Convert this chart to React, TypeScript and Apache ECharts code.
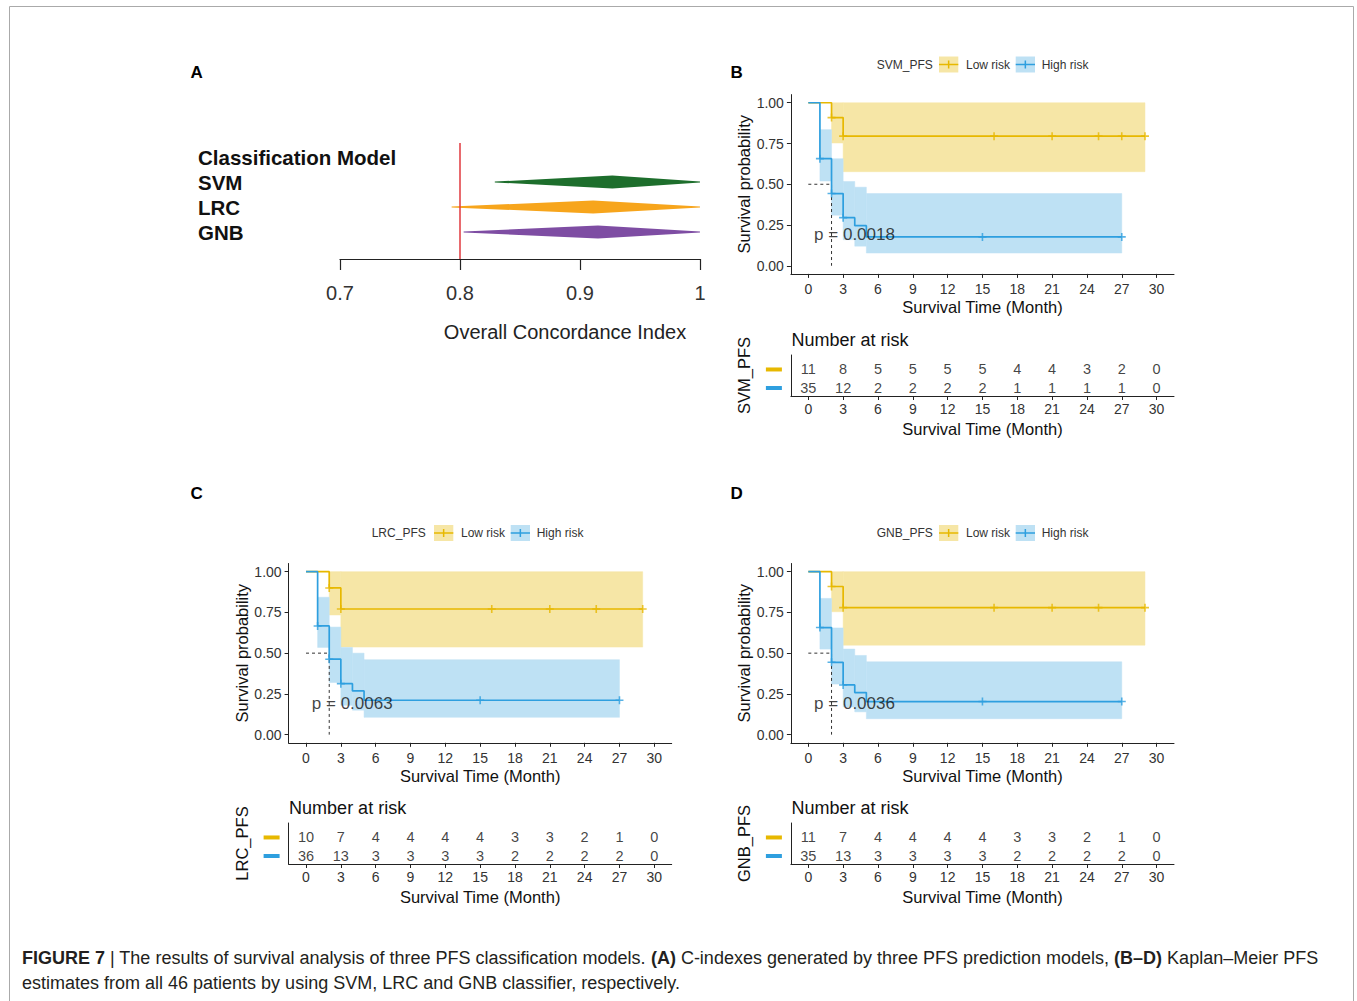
import React, { useEffect, useRef } from "react";
import * as echarts from "echarts";

// ---------- shared ticks / names ----------
const monthTicks = [0, 3, 6, 9, 12, 15, 18, 21, 24, 27, 30];
const probTicks = [0, 0.25, 0.5, 0.75, 1];
const groupNames = ["Low risk", "High risk"];

// ---------- Panel A: C-index ----------
const models = ["SVM", "LRC", "GNB"];
const modelColors = ["#1D6E2C", "#F7A51C", "#7E4DA3"];
const cIndexLow = [0.829, 0.793, 0.803];
const cIndexPeak = [0.927, 0.911, 0.915];
const cIndexHigh = [1.0, 1.0, 1.0];
const cIndexTicks = [0.7, 0.8, 0.9, 1];
const cIndexRef = 0.8;

// ---------- SVM ----------
const svmLowCurve = [[0, 1], [2, 0.909], [3, 0.795], [29, 0.795]];
const svmHighCurve = [[0, 1], [1, 0.657], [2, 0.443], [3, 0.295], [4, 0.246], [5, 0.177], [27, 0.177]];
const svmLowCensor = [[2, 0.909], [3, 0.795], [16, 0.795], [21, 0.795], [25, 0.795], [27, 0.795], [29, 0.795]];
const svmHighCensor = [[1, 0.657], [2, 0.443], [3, 0.295], [15, 0.177], [27, 0.177]];
const svmLowCI = [[2, 3, 0.753, 1], [3, 29, 0.577, 1]];
const svmHighCI = [[1, 2, 0.52, 0.835], [2, 3, 0.31, 0.657], [3, 4, 0.16, 0.517], [4, 5, 0.12, 0.482], [5, 27, 0.078, 0.443]];
const svmLowRisk = [11, 8, 5, 5, 5, 5, 4, 4, 3, 2, 0];
const svmHighRisk = [35, 12, 2, 2, 2, 2, 1, 1, 1, 1, 0];
const svmMedian = 2;
const svmP = "p = 0.0018";

// ---------- LRC ----------
const lrcLowCurve = [[0, 1], [2, 0.9], [3, 0.771], [29, 0.771]];
const lrcHighCurve = [[0, 1], [1, 0.667], [2, 0.463], [3, 0.313], [4, 0.268], [5, 0.211], [27, 0.211]];
const lrcLowCensor = [[2, 0.9], [3, 0.771], [16, 0.771], [21, 0.771], [25, 0.771], [29, 0.771]];
const lrcHighCensor = [[1, 0.667], [2, 0.463], [3, 0.313], [15, 0.211], [27, 0.211]];
const lrcLowCI = [[2, 3, 0.734, 1], [3, 29, 0.537, 1]];
const lrcHighCI = [[1, 2, 0.535, 0.843], [2, 3, 0.32, 0.66], [3, 4, 0.18, 0.535], [4, 5, 0.15, 0.5], [5, 27, 0.106, 0.46]];
const lrcLowRisk = [10, 7, 4, 4, 4, 4, 3, 3, 2, 1, 0];
const lrcHighRisk = [36, 13, 3, 3, 3, 3, 2, 2, 2, 2, 0];
const lrcMedian = 2;
const lrcP = "p = 0.0063";

// ---------- GNB ----------
const gnbLowCurve = [[0, 1], [2, 0.909], [3, 0.779], [29, 0.779]];
const gnbHighCurve = [[0, 1], [1, 0.657], [2, 0.444], [3, 0.305], [4, 0.258], [5, 0.203], [27, 0.203]];
const gnbLowCensor = [[2, 0.909], [3, 0.779], [16, 0.779], [21, 0.779], [25, 0.779], [29, 0.779]];
const gnbHighCensor = [[1, 0.657], [2, 0.444], [3, 0.305], [15, 0.203], [27, 0.203]];
const gnbLowCI = [[2, 3, 0.754, 1], [3, 29, 0.549, 1]];
const gnbHighCI = [[1, 2, 0.525, 0.836], [2, 3, 0.31, 0.655], [3, 4, 0.17, 0.525], [4, 5, 0.14, 0.486], [5, 27, 0.098, 0.447]];
const gnbLowRisk = [11, 7, 4, 4, 4, 4, 3, 3, 2, 1, 0];
const gnbHighRisk = [35, 13, 3, 3, 3, 3, 2, 2, 2, 2, 0];
const gnbMedian = 2;
const gnbP = "p = 0.0036";

const pAnchor = [0.5, 0.19];

const kmModels = [
  { name: "SVM_PFS", lowCurve: svmLowCurve, highCurve: svmHighCurve, lowCensor: svmLowCensor, highCensor: svmHighCensor, lowCI: svmLowCI, highCI: svmHighCI, lowRisk: svmLowRisk, highRisk: svmHighRisk, median: svmMedian, p: svmP },
  { name: "LRC_PFS", lowCurve: lrcLowCurve, highCurve: lrcHighCurve, lowCensor: lrcLowCensor, highCensor: lrcHighCensor, lowCI: lrcLowCI, highCI: lrcHighCI, lowRisk: lrcLowRisk, highRisk: lrcHighRisk, median: lrcMedian, p: lrcP },
  { name: "GNB_PFS", lowCurve: gnbLowCurve, highCurve: gnbHighCurve, lowCensor: gnbLowCensor, highCensor: gnbHighCensor, lowCI: gnbLowCI, highCI: gnbHighCI, lowRisk: gnbLowRisk, highRisk: gnbHighRisk, median: gnbMedian, p: gnbP },
];

// ---------- layout / style ----------
const FONT = "'Liberation Sans', Arial, Helvetica, sans-serif";
const LOW = "#E7B800";
const HIGH = "#2E9FDF";
const LOW_BAND = "#F6E6A6";
const HIGH_BAND = "#BEE1F4";
const AXIS = "#222";
const TICKTXT = "#333";

const panelLayout = [
  { letter: "B", left: 790.9, kmTop: 94.6, tableTop: 355, legendX: 876.7, legendY: 64.5, nrY: 340 },
  { letter: "C", left: 288.6, kmTop: 563.5, tableTop: 823, legendX: 371.7, legendY: 533, nrY: 807.5 },
  { letter: "D", left: 790.9, kmTop: 563.5, tableTop: 823, legendX: 876.7, legendY: 533, nrY: 807.5 },
];
const KM_W = 383.1;
const KM_H = 179.3;
const TABLE_H = 41;

const PLUS = "path://M0,3.2H3.2V0H4.8V3.2H8V4.8H4.8V8H3.2V4.8H0Z";

function txt(x: number, y: number, text: string, font: string, fill = "#333", align = "left") {
  return {
    type: "text", x, y,
    style: { text, font, fill, textAlign: align, textVerticalAlign: "middle", align, verticalAlign: "middle" },
  };
}

function buildOption() {
  const grid: any[] = [];
  const xAxis: any[] = [];
  const yAxis: any[] = [];
  const series: any[] = [];
  const graphic: any[] = [];

  // ---- Panel A ----
  grid.push({ left: 340, top: 143, width: 360, height: 116, outerBoundsMode: "none" });
  xAxis.push({
    gridIndex: 0, type: "value", min: 0.7, max: 1,
    axisLine: { show: true, onZero: false, lineStyle: { color: AXIS, width: 1.2 } },
    axisTick: { show: true, length: 11, inside: false, customValues: cIndexTicks, lineStyle: { color: AXIS, width: 1.2 } },
    axisLabel: { customValues: cIndexTicks, margin: 24, fontSize: 20, color: TICKTXT, formatter: (v: number) => (v === 1 ? "1" : v.toFixed(1)) },
    splitLine: { show: false },
  });
  yAxis.push({
    gridIndex: 0, type: "value", min: -0.08, max: 4.56,
    axisLine: { show: false, onZero: false }, axisTick: { show: false }, splitLine: { show: false },
    axisLabel: {
      customValues: [1, 2, 3, 4], align: "left", margin: 142,
      fontSize: 20.5, fontWeight: "bold", color: "#111",
      formatter: (v: number) => (v === 4 ? "Classification Model" : models[models.length - v]),
    },
  });
  graphic.push(txt(565, 332, "Overall Concordance Index", `20px ${FONT}`, "#222", "center"));
  series.push({
    type: "custom", xAxisIndex: 0, yAxisIndex: 0,
    encode: { x: [0, 1, 2], y: 3 },
    data: models.map((m, i) => [cIndexLow[i], cIndexPeak[i], cIndexHigh[i], models.length - i]),
    renderItem: (params: any, api: any) => {
      const y = api.value(3);
      const l = api.coord([api.value(0), y]);
      const m = api.coord([api.value(1), y]);
      const r = api.coord([api.value(2), y]);
      const h = 6.5;
      return {
        type: "polygon",
        shape: { points: [[l[0], l[1] - 0.4], [m[0], m[1] - h], [r[0], r[1] - 0.6], [r[0], r[1] + 0.6], [m[0], m[1] + h], [l[0], l[1] + 0.4]] },
        style: { fill: modelColors[params.dataIndex] },
      };
    },
    markLine: {
      silent: true, symbol: "none", label: { show: false },
      lineStyle: { color: "#E0393E", width: 1.5, type: "solid" },
      data: [{ xAxis: cIndexRef }],
    },
  });

  // ---- KM panels ----
  kmModels.forEach((km, p) => {
    const L = panelLayout[p];
    const gKM = grid.length;
    grid.push({ left: L.left, top: L.kmTop, width: KM_W, height: KM_H, outerBoundsMode: "none" });
    const gT = grid.length;
    grid.push({ left: L.left, top: L.tableTop, width: KM_W, height: TABLE_H, outerBoundsMode: "none" });

    const xCommon = (margin: number, gap: number) => ({
      type: "value", min: -1.5, max: 31.5,
      axisLine: { show: true, onZero: false, lineStyle: { color: AXIS, width: 1 } },
      axisTick: { show: true, length: 4, customValues: monthTicks, lineStyle: { color: AXIS } },
      axisLabel: { customValues: monthTicks, margin, fontSize: 14, color: TICKTXT },
      splitLine: { show: false },
      name: "Survival Time (Month)", nameLocation: "middle", nameGap: gap,
      nameTextStyle: { fontSize: 16.5, color: "#111" },
    });
    xAxis.push({ gridIndex: gKM, ...xCommon(8, 25) });
    xAxis.push({ gridIndex: gT, ...xCommon(6, 24) });

    yAxis.push({
      gridIndex: gKM, type: "value", min: -0.05, max: 1.05,
      axisLine: { show: true, onZero: false, lineStyle: { color: AXIS, width: 1 } },
      axisTick: { show: true, length: 4, customValues: probTicks, lineStyle: { color: AXIS } },
      axisLabel: { customValues: probTicks, margin: 7, fontSize: 14, color: TICKTXT, formatter: (v: number) => v.toFixed(2) },
      splitLine: { show: false },
      name: "Survival probability", nameLocation: "middle", nameRotate: 90, nameGap: 38,
      nameTextStyle: { fontSize: 16.5, color: "#111" },
    });
    yAxis.push({
      gridIndex: gT, type: "value", min: 0.57, max: 2.78,
      axisLine: { show: true, onZero: false, lineStyle: { color: AXIS, width: 1 } },
      axisTick: { show: false }, splitLine: { show: false },
      axisLabel: {
        customValues: [1, 2], margin: 9,
        formatter: (v: number) => (v === 2 ? "{lo| }" : "{hi| }"),
        rich: {
          lo: { width: 16, height: 4, lineHeight: 4, fontSize: 4, backgroundColor: LOW },
          hi: { width: 16, height: 4, lineHeight: 4, fontSize: 4, backgroundColor: HIGH },
        },
      },
      name: km.name, nameLocation: "middle", nameRotate: 90, nameGap: 38,
      nameTextStyle: { fontSize: 16.5, color: "#111" },
    });

    const ax = { xAxisIndex: gKM, yAxisIndex: gKM };
    const band = (data: number[][], fill: string) => ({
      type: "custom", ...ax, encode: { x: [0, 1], y: [2, 3] }, data, z: 1,
      renderItem: (params: any, api: any) => {
        const a = api.coord([api.value(0), api.value(3)]);
        const b = api.coord([api.value(1), api.value(2)]);
        return { type: "rect", shape: { x: a[0], y: a[1], width: b[0] - a[0], height: b[1] - a[1] }, style: { fill, stroke: fill, lineWidth: 0.5 } };
      },
    });
    series.push(band(km.lowCI, LOW_BAND));
    series.push(band(km.highCI, HIGH_BAND));
    series.push({
      type: "line", ...ax, z: 3, symbol: "none",
      data: [[0, 0.5], [km.median, 0.5], [km.median, 0]],
      lineStyle: { color: "#333", width: 1, type: [3, 3] },
    });
    series.push({ type: "line", ...ax, z: 4, name: groupNames[0], step: "end", symbol: "none", data: km.lowCurve, lineStyle: { color: LOW, width: 1.7 } });
    series.push({ type: "line", ...ax, z: 4, name: groupNames[1], step: "end", symbol: "none", data: km.highCurve, lineStyle: { color: HIGH, width: 1.7 } });
    series.push({ type: "scatter", ...ax, z: 5, symbol: PLUS, symbolSize: 8, data: km.lowCensor, itemStyle: { color: LOW } });
    series.push({ type: "scatter", ...ax, z: 5, symbol: PLUS, symbolSize: 8, data: km.highCensor, itemStyle: { color: HIGH } });
    series.push({
      type: "scatter", ...ax, z: 6, symbolSize: 0, data: [pAnchor],
      label: { show: true, position: "right", distance: 0, formatter: km.p, fontSize: 17, color: "#111" },
    });

    // risk table
    series.push({
      type: "scatter", xAxisIndex: gT, yAxisIndex: gT, symbolSize: 0,
      data: monthTicks.map((t, i) => [t, 2, km.lowRisk[i]]).concat(monthTicks.map((t, i) => [t, 1, km.highRisk[i]])),
      label: { show: true, position: "inside", formatter: (pp: any) => String(pp.value[2]), fontSize: 14.5, color: "#111" },
    });

    // legend
    const lx = L.legendX, ly = L.legendY;
    const key = (x: number, fill: string, stroke: string) => [
      { type: "rect", shape: { x, y: ly - 8, width: 19.3, height: 16 }, style: { fill } },
      { type: "line", shape: { x1: x, y1: ly, x2: x + 19.3, y2: ly }, style: { stroke, lineWidth: 1.5 } },
      { type: "line", shape: { x1: x + 9.65, y1: ly - 4, x2: x + 9.65, y2: ly + 4 }, style: { stroke, lineWidth: 1.5 } },
    ];
    graphic.push(txt(lx, ly, km.name, `12px ${FONT}`));
    graphic.push(...key(lx + 62.3, LOW_BAND, LOW));
    graphic.push(txt(lx + 89.3, ly, groupNames[0], `12px ${FONT}`));
    graphic.push(...key(lx + 139, HIGH_BAND, HIGH));
    graphic.push(txt(lx + 165, ly, groupNames[1], `12px ${FONT}`));
    graphic.push(txt(L.left + 0.5, L.nrY, "Number at risk", `18px ${FONT}`, "#111"));
  });

  // panel letters
  const letters: [string, number, number][] = [["A", 190.5, 72.5], ["B", 730.5, 72.5], ["C", 190.5, 493.5], ["D", 730.5, 493.5]];
  letters.forEach(([t, x, y]) => {
    graphic.push(txt(x, y, t, `bold 17px ${FONT}`, "#000"));
  });

  // frame
  graphic.push({ type: "rect", shape: { x: 9.5, y: 6.5, width: 1344, height: 1010 }, style: { fill: "none", stroke: "#AAAAAA", lineWidth: 1 }, z: -1 });

  // caption
  graphic.push({
    type: "text", x: 22, y: 945.5,
    style: {
      text:
        "{b|FIGURE 7} {s||} The results of survival analysis of three PFS classification models. {b|(A)} C-indexes generated by three PFS prediction models, {b|(B–D)} Kaplan–Meier PFS\nestimates from all 46 patients by using SVM, LRC and GNB classifier, respectively.",
      font: `18px ${FONT}`, fill: "#231F20", lineHeight: 25,
      textAlign: "left", align: "left",
      rich: {
        b: { fontWeight: "bold", fontSize: 18, lineHeight: 25, fontFamily: FONT, color: "#231F20" },
        s: { fontSize: 18, lineHeight: 25, fontFamily: FONT, color: "#888" },
      },
    },
  });

  return {
    animation: false,
    backgroundColor: "#ffffff",
    textStyle: { fontFamily: FONT },
    grid, xAxis, yAxis, series, graphic,
  };
}

export default function App() {
  const ref = useRef<HTMLDivElement>(null);
  useEffect(() => {
    if (!ref.current) return;
    const chart = echarts.init(ref.current, null, { renderer: "svg" });
    chart.setOption(buildOption() as any);
    return () => chart.dispose();
  }, []);
  return <div ref={ref} style={{ position: "absolute", left: 0, top: 0, width: 1357, height: 1001 }} />;
}
